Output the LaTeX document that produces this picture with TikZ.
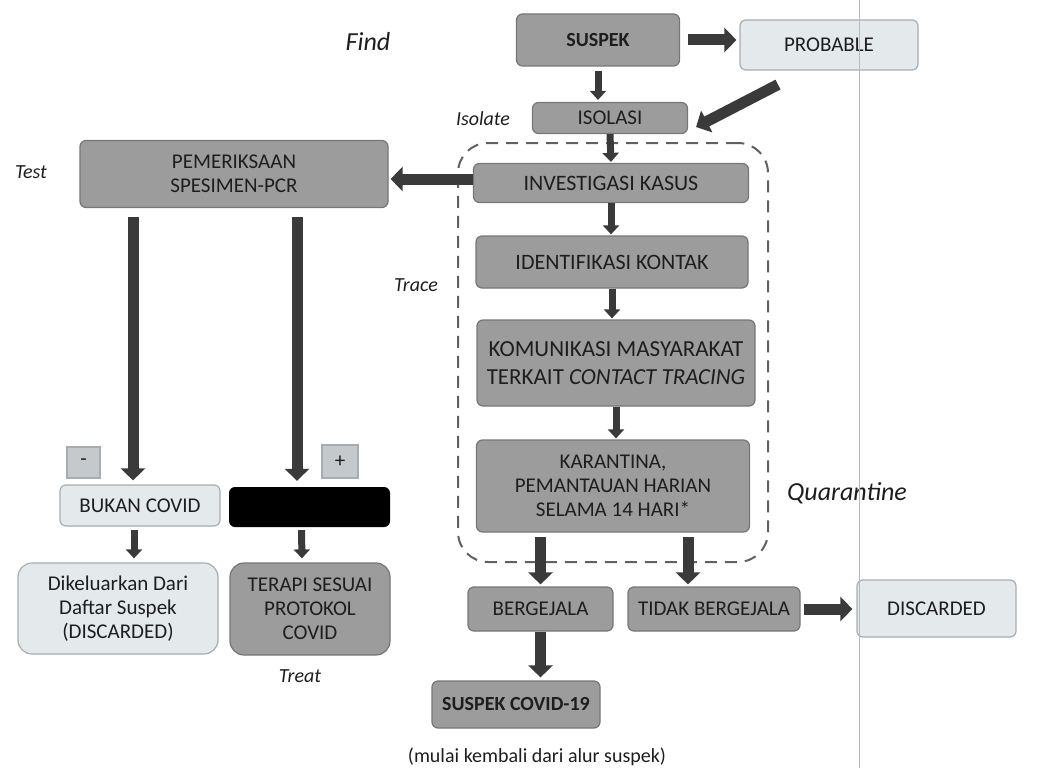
\documentclass[tikz,border=0pt]{standalone}
\usepackage{fontspec}
\setmainfont{Carlito}
\usetikzlibrary{arrows.meta}

\definecolor{boxgray}{HTML}{9C9C9C}
\definecolor{boxedge}{HTML}{767676}
\definecolor{paleblue}{HTML}{E4E9EC}
\definecolor{paleedge}{HTML}{A6ADB2}
\definecolor{arrowgray}{HTML}{3A3A3A}
\definecolor{txtgray}{HTML}{1E1E1E}

\begin{document}
\begin{tikzpicture}[x=1pt, y=-1pt,
  every node/.style={font=\fontsize{21}{24}\selectfont, text=txtgray, align=center, inner sep=0pt},
  darkbox/.style={rectangle, rounded corners=6pt, draw=boxedge, line width=1.2pt, fill=boxgray},
  palebox/.style={rectangle, rounded corners=6pt, draw=paleedge, line width=1.2pt, fill=paleblue},
  signbox/.style={rectangle, draw=paleedge, line width=1.2pt, fill=paleblue!70!gray},
  stagelabel/.style={font=\itshape\fontsize{20}{24}\selectfont},
  biglabel/.style={font=\itshape\fontsize{26}{30}\selectfont},
  bigarrow/.style={draw=arrowgray, line width=11pt, -{Triangle[length=12pt, width=24pt]}},
  smallarrow/.style={draw=arrowgray, line width=7pt, -{Triangle[length=9pt, width=16pt]}}]

  \useasboundingbox (0,0) rectangle (1039,768);

  \node[darkbox, minimum width=163pt, minimum height=52pt, font=\bfseries\fontsize{20}{24}\selectfont] (suspek) at (598,40) {SUSPEK};
  \node[palebox, minimum width=178pt, minimum height=50pt] (probable) at (829,45) {PROBABLE};
  \node[darkbox, minimum width=155pt, minimum height=31pt] (isolasi) at (610,118) {ISOLASI};
  \node[darkbox, minimum width=308pt, minimum height=67pt] (pcr) at (234,174) {PEMERIKSAAN\\SPESIMEN-PCR};

  \node[rectangle, rounded corners=30pt, draw=arrowgray!80, line width=2pt, dash pattern=on 12pt off 8pt,
        minimum width=310pt, minimum height=419pt] (tracebox) at (613,352.5) {};
  \node[darkbox, minimum width=275pt, minimum height=39pt, font=\fontsize{22}{25}\selectfont] (investigasi) at (611,183) {INVESTIGASI KASUS};
  \node[darkbox, minimum width=272pt, minimum height=52pt, font=\fontsize{22}{25}\selectfont] (identifikasi) at (612,262) {IDENTIFIKASI KONTAK};
  \node[darkbox, minimum width=278pt, minimum height=86pt, font=\fontsize{23}{28}\selectfont] (komunikasi) at (616,363) {KOMUNIKASI MASYARAKAT\\TERKAIT \textit{CONTACT TRACING}};
  \node[darkbox, minimum width=273pt, minimum height=92pt] (karantina) at (613,486) {KARANTINA,\\PEMANTAUAN HARIAN\\SELAMA 14 HARI*};

  \node[signbox, minimum width=33pt, minimum height=31pt] (minus) at (83.5,462.5) {-};
  \node[signbox, minimum width=36pt, minimum height=33pt] (plus) at (340,461.5) {+};
  \node[palebox, minimum width=160pt, minimum height=41pt] (bukan) at (140,505.5) {BUKAN COVID};
  \node[rectangle, rounded corners=6pt, fill=black, minimum width=161pt, minimum height=40pt] (hasil) at (309.5,507) {};
  \node[palebox, rounded corners=14pt, minimum width=200pt, minimum height=91pt] (dikeluarkan) at (118,608.5) {Dikeluarkan Dari\\Daftar Suspek\\(DISCARDED)};
  \node[darkbox, rounded corners=14pt, minimum width=160pt, minimum height=92pt] (terapi) at (310,609) {TERAPI SESUAI\\PROTOKOL\\COVID};

  \node[darkbox, minimum width=145pt, minimum height=44pt] (bergejala) at (540.5,609) {BERGEJALA};
  \node[darkbox, minimum width=172pt, minimum height=44pt] (tidak) at (714,609) {TIDAK BERGEJALA};
  \node[palebox, minimum width=159pt, minimum height=57pt] (discarded) at (936.5,608.5) {DISCARDED};
  \node[darkbox, minimum width=168pt, minimum height=47pt, font=\bfseries\fontsize{20}{24}\selectfont] (covid) at (516,704.5) {SUSPEK COVID-19};
  \node[font=\fontsize{20}{24}\selectfont] (ulang) at (537,757) {(mulai kembali dari alur suspek)};

  \node[biglabel] (find) at (368,42) {Find};
  \node[stagelabel] (isolate) at (483,119) {Isolate};
  \node[stagelabel] (test) at (31,172) {Test};
  \node[stagelabel] (trace) at (416,285) {Trace};
  \node[biglabel] (quarantine) at (847,493) {Quarantine};
  \node[stagelabel] (treat) at (300,676) {Treat};

  % garis tipis di kanan, ikut kertas aslinya
  \draw[gray!55, line width=1pt] (859,0) -- (859,768);

  \draw[bigarrow, shorten <=8pt, shorten >=3pt] (suspek.east) -- (suspek.east -| probable.west);
  \draw[smallarrow, shorten <=4pt, shorten >=2pt] (suspek.south) -- (suspek.south |- isolasi.north);
  \draw[bigarrow] ([xshift=-51pt, yshift=-14pt]probable.south) -- ([xshift=8pt, yshift=-9pt]isolasi.east);
  \draw[smallarrow, shorten >=1pt] (isolasi.south) -- (investigasi.north);
  \draw[bigarrow, shorten >=2pt] ([yshift=4pt]investigasi.west) -- ([yshift=4pt]investigasi.west -| pcr.east);
  \draw[smallarrow, shorten >=1pt] (investigasi.south) -- (investigasi.south |- identifikasi.north);
  \draw[smallarrow, shorten >=1pt] (identifikasi.south) -- (identifikasi.south |- komunikasi.north);
  \draw[smallarrow, shorten >=1pt] (komunikasi.south) -- (komunikasi.south |- karantina.north);
  \draw[bigarrow, shorten <=4pt, shorten >=2pt] (bergejala.north |- karantina.south) -- (bergejala.north);
  \draw[bigarrow, shorten <=4pt, shorten >=2pt] ([xshift=-26pt]tidak.north |- karantina.south) -- ([xshift=-26pt]tidak.north);
  \draw[bigarrow, shorten <=3pt, shorten >=4pt] (tidak.east) -- (tidak.east -| discarded.west);
  \draw[bigarrow, shorten >=3pt] (bergejala.south) -- (bergejala.south |- covid.north);
  \draw[bigarrow, shorten <=9pt, shorten >=4pt] ([xshift=-101pt]pcr.south) -- ([xshift=-7pt]bukan.north);
  \draw[bigarrow, shorten <=9pt, shorten >=6pt] ([xshift=63pt]pcr.south) -- ([xshift=-12.5pt]hasil.north);
  \draw[smallarrow, shorten <=3pt, shorten >=4pt] ([xshift=-6pt]bukan.south) -- ([xshift=-6pt]bukan.south |- dikeluarkan.north);
  \draw[smallarrow, shorten <=3pt, shorten >=4pt] ([xshift=-8pt]hasil.south) -- ([xshift=-8pt]terapi.north);
\end{tikzpicture}
\end{document}
